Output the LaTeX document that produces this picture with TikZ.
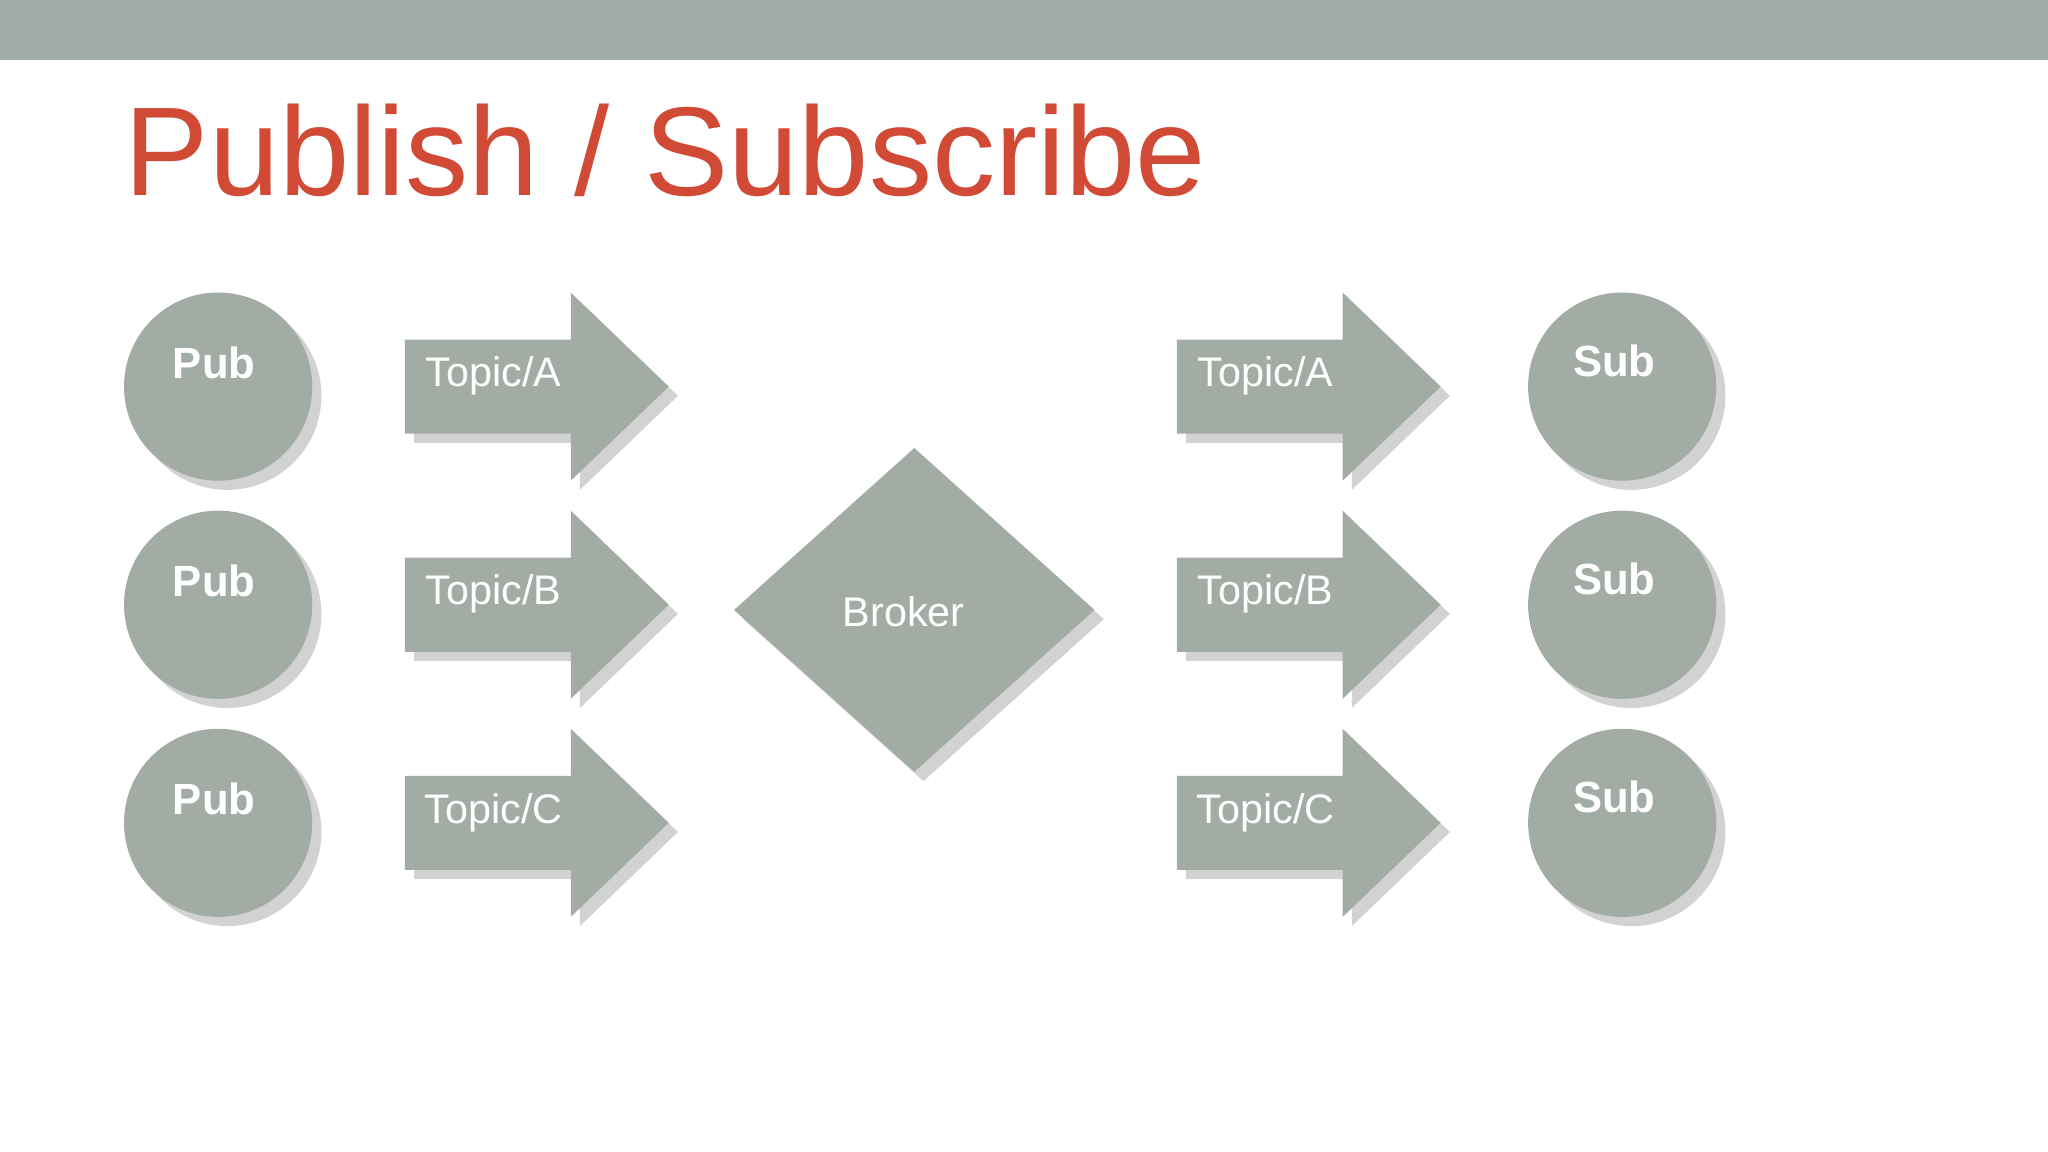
\documentclass[tikz,border=0pt]{standalone}
\usepackage{fontspec}
\setmainfont{Liberation Sans}
\usetikzlibrary{shadows}
\definecolor{band}{HTML}{A3ADA7}
\definecolor{shape}{HTML}{A2ACA5}
\definecolor{titlec}{HTML}{D04A35}
\tikzset{
  x=0.01cm,y=-0.01cm,
  base/.style={fill=shape, drop shadow={shadow xshift=2pt,shadow yshift=-2pt,opacity=0.35}},
  circ/.style={base, circle, minimum size=1.44cm, inner sep=0pt},
  lbl/.style={text=white, font=\fontsize{9}{10}\selectfont},
  blbl/.style={text=white, font=\fontsize{9.5}{10}\selectfont\bfseries},
}
\begin{document}
\begin{tikzpicture}
\useasboundingbox (0,0) rectangle (1568,882);
\fill[white] (0,0) rectangle (1568,882);
\fill[band] (0,0) rectangle (1568,46);
\node[anchor=base west, text=titlec, font=\fontsize{27.5}{30}\selectfont, inner sep=0pt] (title) at (95,150) {Publish / Subscribe};
\foreach \r/\y/\t in {1/296/A,2/463/B,3/630/C}{
  \node[circ] (pub\r) at (167,\y) {};
  \node[blbl] (pubt\r) at (164,\y-18) {Pub};
  \node[circ] (sub\r) at (1242,\y) {};
  \node[blbl] (subt\r) at (1236,\y-20) {Sub};
  \path[base] (310,\y-36) -- (437,\y-36) -- (437,\y-72) -- (512,\y) -- (437,\y+72) -- (437,\y+36) -- (310,\y+36) -- cycle;
  \node[lbl] (lt\r) at (378,\y-8) {Topic/\t};
  \path[base] (901,\y-36) -- (1028,\y-36) -- (1028,\y-72) -- (1103,\y) -- (1028,\y+72) -- (1028,\y+36) -- (901,\y+36) -- cycle;
  \node[lbl] (rt\r) at (969,\y-8) {Topic/\t};
}
\path[base] (700,343) -- (838,467) -- (700,591) -- (562,467) -- cycle;
\node[lbl] (broker) at (692,468) {Broker};
\end{tikzpicture}
\end{document}
